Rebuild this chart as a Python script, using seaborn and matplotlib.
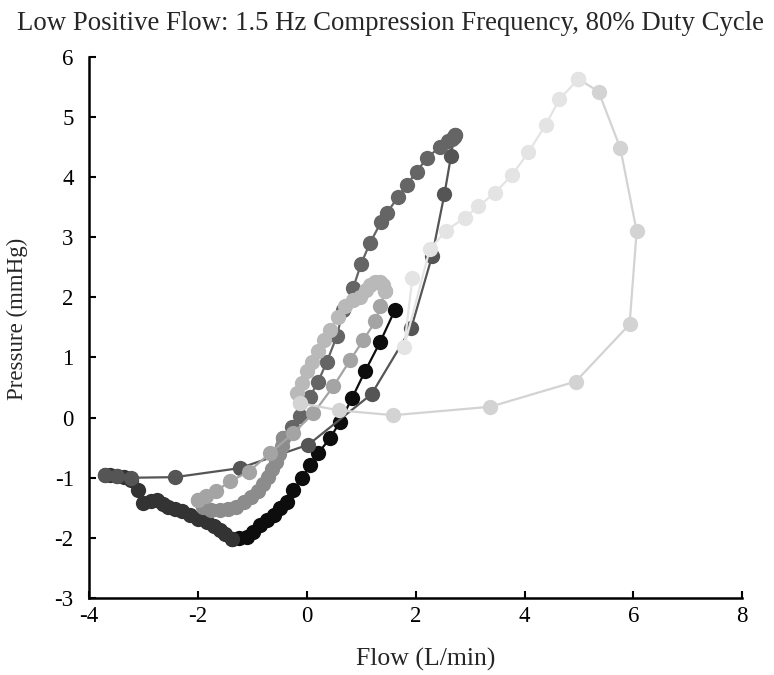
import pandas as pd
import seaborn as sns
import matplotlib
matplotlib.use('Agg')
import matplotlib.pyplot as plt

# Fases do ciclo
fase_preta_x = [-1.38, -1.25, -1.10, -0.98, -0.86, -0.73, -0.61, -0.49, -0.37, -0.25, -0.09,
                0.06, 0.21, 0.43, 0.61, 0.83, 1.07, 1.35, 1.62]
fase_preta_y = [-2.01, -2.00, -1.98, -1.90, -1.79, -1.70, -1.62, -1.50, -1.40, -1.20, -1.01,
                -0.79, -0.59, -0.34, -0.07, 0.32, 0.77, 1.26, 1.79]

fase_escura_x = [-3.71, -3.62, -3.49, -3.35, -3.22, -3.10, -3.00, -2.86, -2.76, -2.64, -2.54,
                 -2.42, -2.30, -2.15, -2.00, -1.84, -1.70, -1.60, -1.50, -1.38]
fase_escura_y = [-0.95, -0.95, -0.97, -0.99, -1.03, -1.20, -1.42, -1.38, -1.37, -1.43, -1.48,
                 -1.52, -1.56, -1.62, -1.68, -1.74, -1.81, -1.87, -1.94, -2.01]

fase_cinza_desc_x = [2.73, 2.70, 2.65, 2.53, 2.30, 1.92, 1.19, 0.03, -1.23, -2.42, -3.22, -3.49, -3.71]
fase_cinza_desc_y = [4.69, 4.66, 4.35, 3.72, 2.68, 1.49, 0.39, -0.45, -0.84, -0.99, -1.00, -0.97, -0.95]

fase_cinza_sub_x = [-0.43, -0.28, -0.12, 0.06, 0.21, 0.37, 0.55, 0.67, 0.85, 1.00, 1.16, 1.37,
                    1.47, 1.67, 1.84, 2.02, 2.21, 2.45, 2.60, 2.66, 2.73]
fase_cinza_sub_y = [-0.34, -0.15, 0.02, 0.35, 0.60, 0.93, 1.35, 1.79, 2.15, 2.56, 2.90, 3.26,
                    3.40, 3.66, 3.87, 4.09, 4.32, 4.50, 4.60, 4.63, 4.69]

fase_media_x = [-1.99, -1.90, -1.75, -1.59, -1.45, -1.30, -1.15, -1.02, -0.90, -0.80, -0.72,
                -0.64, -0.57, -0.51, -0.46, -0.43]
fase_media_y = [-1.37, -1.48, -1.53, -1.54, -1.52, -1.48, -1.40, -1.32, -1.22, -1.10, -0.98,
                -0.86, -0.74, -0.60, -0.47, -0.34]

fase_clara_desc_x = [1.44, 1.35, 1.26, 1.04, 0.80, 0.49, 0.12, -0.25, -0.67, -1.07, -1.41,
                     -1.66, -1.85, -1.99]
fase_clara_desc_y = [2.10, 1.85, 1.60, 1.29, 0.96, 0.52, 0.07, -0.26, -0.59, -0.90, -1.06,
                     -1.22, -1.30, -1.37]

fase_clara_sub_x = [-0.12, -0.18, -0.09, 0.00, 0.09, 0.21, 0.31, 0.43, 0.58, 0.70, 0.85, 0.98,
                    1.08, 1.16, 1.26, 1.35, 1.40, 1.44]
fase_clara_sub_y = [0.24, 0.41, 0.57, 0.77, 0.93, 1.10, 1.29, 1.46, 1.68, 1.85, 1.95, 2.01,
                    2.12, 2.21, 2.26, 2.26, 2.20, 2.10]

fase_retorno_x = [4.99, 5.36, 5.76, 6.06, 5.93, 4.94, 3.37, 1.59, 0.60, -0.12]
fase_retorno_y = [5.63, 5.42, 4.48, 3.10, 1.55, 0.60, 0.18, 0.04, 0.12, 0.24]

fase_pico_x = [1.94, 1.79, 2.26, 2.56, 2.90, 3.15, 3.46, 3.77, 4.07, 4.39, 4.64, 4.99]
fase_pico_y = [2.32, 1.18, 2.80, 3.11, 3.32, 3.51, 3.74, 4.03, 4.41, 4.87, 5.29, 5.63]

fases = {
    'preta': (fase_preta_x, fase_preta_y, '#0d0d0d'),
    'escura': (fase_escura_x, fase_escura_y, '#333333'),
    'cinza_desc': (fase_cinza_desc_x, fase_cinza_desc_y, '#555555'),
    'cinza_sub': (fase_cinza_sub_x, fase_cinza_sub_y, '#656565'),
    'media': (fase_media_x, fase_media_y, '#8c8c8c'),
    'clara_desc': (fase_clara_desc_x, fase_clara_desc_y, '#a4a4a4'),
    'clara_sub': (fase_clara_sub_x, fase_clara_sub_y, '#b9b9b9'),
    'retorno': (fase_retorno_x, fase_retorno_y, '#d3d3d3'),
    'pico': (fase_pico_x, fase_pico_y, '#e4e4e4'),
}

df_list = []
for nome, (xs, ys, _) in fases.items():
    df = pd.DataFrame({'Flow': xs, 'Pressure': ys})
    df['Fase'] = nome
    df_list.append(df)
df_final = pd.concat(df_list, ignore_index=True)

paleta = {nome: cor for nome, (_, _, cor) in fases.items()}

sns.set_style('ticks')
plt.rcParams['font.family'] = ['Liberation Serif', 'DejaVu Serif']
plt.rcParams['axes.unicode_minus'] = False

fig = plt.figure(figsize=(7.74, 6.75), dpi=100)
ax = fig.add_axes([0.115, 0.114, 0.844, 0.802])

sns.lineplot(data=df_final, x='Flow', y='Pressure', hue='Fase', hue_order=list(fases.keys()),
             palette=paleta, units='Fase', estimator=None, sort=False, legend=False,
             marker='o', markersize=11, markeredgewidth=0, linewidth=1.6, ax=ax)

ax.set_xlim(-4, 8)
ax.set_ylim(-3, 6)
ax.set_xticks(range(-4, 9, 2))
ax.set_yticks(range(-3, 7))
ax.tick_params(direction='in', length=5, width=1.5, labelsize=16.5, colors='black')
ax.tick_params(axis='y', pad=11)
ax.tick_params(axis='x', pad=6)
for lado in ['left', 'bottom']:
    ax.spines[lado].set_linewidth(1.8)
    ax.spines[lado].set_color('black')
sns.despine(ax=ax)
ax.set_xlabel('Flow (L/min)', fontsize=18.5)
ax.set_ylabel('Pressure (mmHg)', fontsize=16.5)
ax.xaxis.set_label_coords(0.516, -0.092)
ax.yaxis.set_label_coords(-0.094, 0.515)
fig.suptitle('Low Positive Flow: 1.5 Hz Compression Frequency, 80% Duty Cycle',
             fontsize=19.3, x=0.505, y=0.983)

plt.savefig('out.png', dpi=100)
